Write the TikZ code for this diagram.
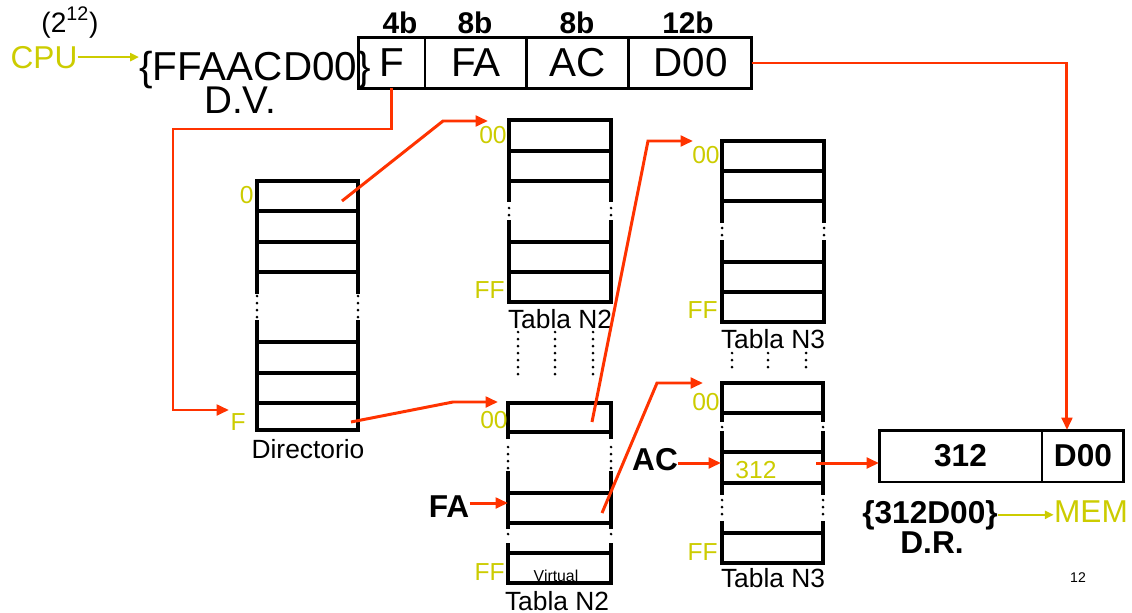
\documentclass[tikz,border=0pt]{standalone}
\usepackage{fontspec}
\setmainfont{Liberation Sans}
\usepackage{xcolor}
\usepackage{tikz}
\usetikzlibrary{arrows.meta, positioning, calc}
\definecolor{rojo}{RGB}{255, 51, 0}
\definecolor{amarillo}{RGB}{204, 204, 0}

\tikzset{
  celda/.style={line width=2.3pt, line cap=rect},
  puntos/.style={line width=1.7pt, line cap=round, dash pattern=on 0pt off 4pt},
  flecha/.style={rojo, line width=1.7pt, -{Triangle[length=7pt, width=6pt]}},
  flechaam/.style={amarillo, line width=1.4pt, -{Triangle[length=5pt, width=4.5pt]}},
  campo/.style={draw, line width=1.7pt, minimum height=1.02cm, inner sep=0pt, outer sep=0pt, font=\fontsize{23}{27}\selectfont},
  campofis/.style={draw, line width=1.7pt, minimum height=1.04cm, inner sep=0pt, outer sep=0pt, font=\fontsize{18}{22}\selectfont\bfseries},
  grande/.style={anchor=base, inner sep=0pt, font=\fontsize{23}{27}\selectfont},
  negrita/.style={anchor=base, inner sep=0pt, font=\fontsize{18}{22}\selectfont\bfseries},
  bits/.style={anchor=base, inner sep=0pt, font=\fontsize{17}{20}\selectfont\bfseries},
  etiq/.style={anchor=base east, inner sep=0pt, amarillo, font=\fontsize{14}{17}\selectfont},
  titulo/.style={anchor=base, inner sep=0pt, font=\fontsize{15}{18}\selectfont}
}

% tabla: x izq, x der, lineas, lados solidos, lados punteados
\newcommand{\dibtabla}[5]{%
  \foreach \y in {#3} \draw[celda] (#1,\y) -- (#2,\y);
  \foreach \x in {#1,#2} {
    \foreach \a/\b in {#4} \draw[celda] (\x,\a) -- (\x,\b);
    \foreach \a/\b in {#5} \draw[puntos] (\x,\a) -- (\x,\b);
  }%
}

\begin{document}
\begin{tikzpicture}[x=0.02cm, y=-0.02cm]
    \useasboundingbox (0,0) rectangle (1132,612);

    % Direccion virtual
    \node[anchor=base, inner sep=0pt, font=\fontsize{16}{19}\selectfont] (pot) at (70,32) {(2\textsuperscript{12})};
    \node[anchor=base, inner sep=0pt, amarillo, font=\fontsize{18}{22}\selectfont] (cpu) at (44,68) {CPU};
    \node[grande] (dv) at (255,80) {\{FFAACD00\}};
    \node[grande, font=\fontsize{22}{26}\selectfont] (dvlbl) at (240,113) {D.V.};
    \draw[flechaam] (cpu.east) -- (cpu.east -| dv.west);

    \node[campo, minimum width=1.34cm] (f1) at (391.5,63) {F};
    \node[campo, minimum width=2.04cm, right=0pt of f1] (f2) {FA};
    \node[campo, minimum width=2.04cm, right=0pt of f2] (f3) {AC};
    \node[campo, minimum width=2.46cm, right=0pt of f3] (f4) {D00};

    \node[bits] (b1) at (400,33) {4b};
    \node[bits] (b2) at (475,33) {8b};
    \node[bits] (b3) at (577,33) {8b};
    \node[bits] (b4) at (688,33) {12b};

    % Tablas
    \dibtabla{257}{358}{181,211,242,272,342,373,403,430}{181/292,322/430}{296/318}
    \dibtabla{509}{611}{120,151,181,242,272,302}{120/200,222/302}{208/217}
    \dibtabla{722}{824}{141,171,201,262,292,322}{141/221,242/322}{228/237}
    \dibtabla{508}{611}{403,432,493,523,553,583}{403/437,473/527,545/583}{447/470,534/541}
    \dibtabla{722}{823}{383,413,452,483,533,563}{383/420,433/493,523/563}{427/429,500/515}

    \foreach \x in {518,555,593} \draw[puntos] (\x,332) -- (\x,377);
    \foreach \x in {732,768,806} \draw[puntos] (\x,353) -- (\x,368);

    \node[titulo] (tdir) at (308,458) {Directorio};
    \node[titulo] (tn2a) at (560,328) {Tabla N2};
    \node[titulo] (tn3a) at (773,348) {Tabla N3};
    \node[titulo] (tn2b) at (557,610) {Tabla N2};
    \node[titulo] (tn3b) at (773,587) {Tabla N3};
    \node[anchor=base, inner sep=0pt, font=\fontsize{9}{11}\selectfont] (virt) at (556,581) {Virtual};

    % Etiquetas amarillas
    \node[etiq] (ld0) at (254,203) {0};
    \node[etiq] (ldF) at (246,430) {F};
    \node[etiq] (l2a0) at (507,143) {00};
    \node[etiq] (l2aF) at (505,298) {FF};
    \node[etiq] (l2b0) at (508,428) {00};
    \node[etiq] (l2bF) at (505,580) {FF};
    \node[etiq] (l3a0) at (720,163) {00};
    \node[etiq] (l3aF) at (718,318) {FF};
    \node[etiq] (l3b0) at (720,410) {00};
    \node[etiq] (l3bF) at (718,560) {FF};
    \node[etiq, anchor=base] (l312) at (756,478) {312};

    \node[negrita] (fa) at (449,517) {FA};
    \node[negrita] (ac) at (655,470) {AC};

    % Direccion real
    \node[campofis, minimum width=3.26cm] (p1) at (960.5,456) {312};
    \node[campofis, minimum width=1.64cm, right=0pt of p1] (p2) {D00};
    \node[negrita] (dr) at (930,523) {\{312D00\}};
    \node[negrita] (drlbl) at (932,553) {D.R.};
    \node[anchor=base, inner sep=0pt, amarillo, font=\fontsize{18}{22}\selectfont] (mem) at (1091,522) {MEM};
    \node[anchor=base, inner sep=0pt, font=\fontsize{8}{10}\selectfont] (pag) at (1078,582) {12};
    \draw[flechaam] (dr.east) -- (dr.east -| mem.west);

    % Punteros
    \coordinate (d0) at (342,201);
    \coordinate (dF) at (351,422);
    \coordinate (inF) at (229,410);
    \coordinate (in2a) at (488,121);
    \coordinate (in2b) at (498,402);
    \coordinate (s2b0) at (592,422);
    \coordinate (s2bfa) at (602,513);
    \coordinate (in3a) at (693,141);
    \coordinate (in3b) at (703,383);
    \coordinate (e2fa) at (508,503);
    \coordinate (e3ac) at (721,463);
    \coordinate (s3) at (816,463);

    \draw[flecha] (f1.south) |- (173,129) -- (173,410) -- (inF);
    \draw[flecha] (d0) -- (443,121) -- (in2a);
    \draw[flecha] (dF) -- (453,402) -- (in2b);
    \draw[flecha] (s2b0) -- (648,141) -- (in3a);
    \draw[flecha] (s2bfa) -- (657,383) -- (in3b);
    \draw[flecha] (fa.east |- e2fa) -- (e2fa);
    \draw[flecha] (ac.east |- e3ac) -- (e3ac);
    \draw[flecha] (s3) -- (s3 -| p1.west);
    \draw[flecha] (f4.east) -| ($(p2.north)+(-16,0)$);
\end{tikzpicture}
\end{document}
